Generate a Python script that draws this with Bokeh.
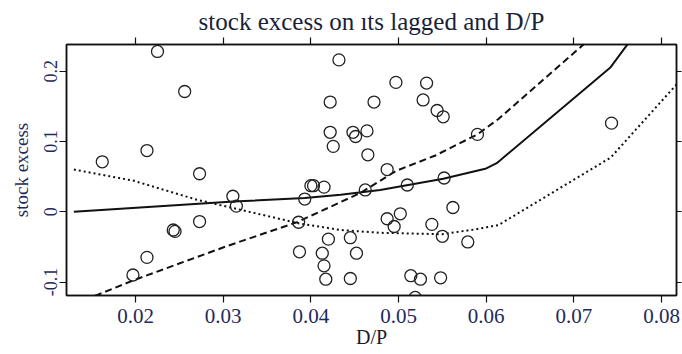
from bokeh.plotting import figure
from bokeh.models import LinearAxis, FixedTicker, Range1d, Title
from bokeh.embed import file_html
from bokeh.resources import INLINE

# ---- data ----
dp = [0.0225, 0.0256, 0.0213, 0.0162, 0.0273, 0.0273, 0.0243, 0.0245, 0.0213, 0.0197,
      0.0311, 0.0315, 0.0393, 0.0400, 0.0403, 0.0415, 0.0386, 0.0420, 0.0387, 0.0413,
      0.0415, 0.0417, 0.0462, 0.0445, 0.0452, 0.0445, 0.0432, 0.0422, 0.0472, 0.0422,
      0.04255, 0.0448, 0.0451, 0.0464, 0.0465, 0.0497, 0.0532, 0.0528, 0.0544, 0.0551,
      0.0590, 0.0487, 0.0510, 0.0552, 0.0487, 0.0502, 0.0495, 0.0562, 0.0538, 0.0550,
      0.0579, 0.0514, 0.0525, 0.0548, 0.0519, 0.0743]
excess = [0.228, 0.171, 0.087, 0.071, 0.054, -0.014, -0.026, -0.028, -0.065, -0.090,
          0.022, 0.008, 0.018, 0.037, 0.037, 0.035, -0.015, -0.039, -0.057, -0.059,
          -0.077, -0.096, 0.031, -0.037, -0.059, -0.095, 0.216, 0.156, 0.156, 0.113,
          0.093, 0.113, 0.107, 0.115, 0.081, 0.184, 0.183, 0.159, 0.144, 0.135,
          0.110, 0.060, 0.038, 0.048, -0.010, -0.003, -0.021, 0.006, -0.018, -0.035,
          -0.043, -0.091, -0.096, -0.094, -0.122, 0.126]

fit_x = [0.01296, 0.0312, 0.0393, 0.0434, 0.0479, 0.0551, 0.0599, 0.0612, 0.0742, 0.0780]
fit_y = [0.000, 0.0145, 0.0195, 0.024, 0.031, 0.047, 0.061, 0.069, 0.2056, 0.270]

upper_x = [0.0130, 0.0157, 0.0201, 0.0304, 0.0384, 0.0457, 0.0497, 0.0542, 0.0590, 0.0614, 0.0712, 0.0742]
upper_y = [-0.130, -0.118, -0.096, -0.049, -0.015, 0.027, 0.058, 0.080, 0.110, 0.132, 0.239, 0.272]

lower_x = [0.01296, 0.0198, 0.0270, 0.0312, 0.0388, 0.0434, 0.0479, 0.0550, 0.0588, 0.0614, 0.0742, 0.0820]
lower_y = [0.060, 0.044, 0.017, 0.005, -0.017, -0.026, -0.030, -0.032, -0.025, -0.019, 0.077, 0.185]

x_ticks = [0.02, 0.03, 0.04, 0.05, 0.06, 0.07, 0.08]
x_tick_labels = ["0.02", "0.03", "0.04", "0.05", "0.06", "0.07", "0.08"]
y_ticks = [-0.1, 0.0, 0.1, 0.2]
y_tick_labels = ["-0.1", "0", "0.1", "0.2"]

title_text = "stock excess on ıts lagged and D/P"
x_label = "D/P"
y_label = "stock excess"

FONT = "Liberation Serif"
TXT = "#1f2a5c"
INK = "#111111"

p = figure(width=682, height=354, output_backend="svg", toolbar_location=None,
           x_range=Range1d(0.01212, 0.08171), y_range=Range1d(-0.1192, 0.2379),
           min_border_left=66, min_border_right=6, min_border_top=44, min_border_bottom=59,
           x_axis_label=x_label, y_axis_label=y_label)

p.title = Title(text=title_text, align="center", text_font=FONT, text_font_size="25px",
                text_font_style="normal", text_color="#1a1f3a", standoff=6, offset=0)
p.xgrid.visible = False
p.ygrid.visible = False
p.outline_line_color = INK
p.outline_line_width = 1.5
p.background_fill_color = "white"
p.border_fill_color = "white"

# bottom axis
xa = p.xaxis[0]
xa.ticker = FixedTicker(ticks=x_ticks)
xa.major_label_overrides = {t: l for t, l in zip(x_ticks, x_tick_labels)}
xa.major_tick_out = 7
xa.major_tick_in = 0
xa.minor_tick_out = 0
xa.minor_tick_in = 0
xa.major_label_standoff = 6
xa.major_label_text_font = FONT
xa.major_label_text_font_size = "21px"
xa.major_label_text_color = TXT
xa.axis_label_text_font = FONT
xa.axis_label_text_font_size = "20px"
xa.axis_label_text_font_style = "normal"
xa.axis_label_text_color = "#1a1a2a"
xa.axis_label_standoff = 0
xa.axis_line_color = INK
xa.axis_line_width = 1.5
xa.major_tick_line_color = INK
xa.major_tick_line_width = 1.2

# left axis
ya = p.yaxis[0]
ya.ticker = FixedTicker(ticks=y_ticks)
ya.major_label_overrides = {t: l for t, l in zip(y_ticks, y_tick_labels)}
ya.major_label_orientation = "vertical"
ya.major_tick_out = 7
ya.major_tick_in = 0
ya.minor_tick_out = 0
ya.minor_tick_in = 0
ya.major_label_standoff = 2
ya.major_label_text_font = FONT
ya.major_label_text_font_size = "18px"
ya.major_label_text_color = TXT
ya.axis_label_text_font = FONT
ya.axis_label_text_font_size = "19px"
ya.axis_label_text_font_style = "normal"
ya.axis_label_text_color = TXT
ya.axis_label_standoff = 10
ya.axis_line_color = INK
ya.axis_line_width = 1.5
ya.major_tick_line_color = INK
ya.major_tick_line_width = 1.2

# top and right axes: ticks only
top = LinearAxis(ticker=FixedTicker(ticks=x_ticks), major_tick_out=7, major_tick_in=0,
                 minor_tick_out=0, minor_tick_in=0,
                 major_label_overrides={t: "" for t in x_ticks},
                 major_label_standoff=0, axis_line_color=INK, axis_line_width=1.5,
                 major_tick_line_color=INK, major_tick_line_width=1.2)
p.add_layout(top, "above")
right = LinearAxis(ticker=FixedTicker(ticks=y_ticks), major_tick_out=5, major_tick_in=0,
                   minor_tick_out=0, minor_tick_in=0,
                   major_label_overrides={t: "" for t in y_ticks},
                   major_label_standoff=0, axis_line_color=INK, axis_line_width=1.5,
                   major_tick_line_color=INK, major_tick_line_width=1.2)
p.add_layout(right, "right")

# curves
p.line(fit_x, fit_y, line_color=INK, line_width=2)
p.line(upper_x, upper_y, line_color=INK, line_width=2, line_dash="7 4")
p.line(lower_x, lower_y, line_color=INK, line_width=2, line_dash="2 3")

# points
p.scatter(dp, excess, marker="circle", size=12, fill_color=None, line_color="#222222",
          line_width=1.3)

open("out.html", "w").write(file_html(p, INLINE))
